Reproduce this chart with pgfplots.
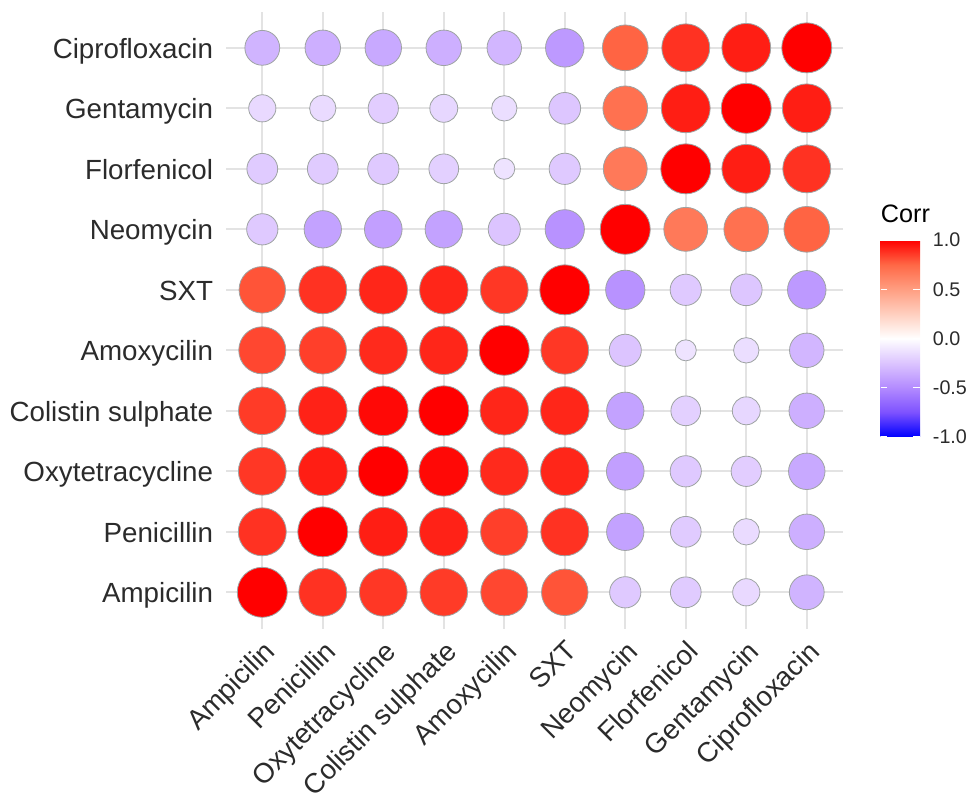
\documentclass[border=0pt]{standalone}
\usepackage{fontspec}
\setmainfont{Liberation Sans}
\usepackage{pgfplots}
\pgfplotsset{compat=1.18}
\usepackage{pgfplotstable}
\usetikzlibrary{calc}

\definecolor{labelgray}{HTML}{2B2B2B}
\definecolor{gridgray}{HTML}{E3E3E3}
\definecolor{rimgray}{HTML}{9EA3A3}

% Correlation matrix: x = column, y = row, r = correlation
% 1 Ampicilin, 2 Penicillin, 3 Oxytetracycline, 4 Colistin sulphate, 5 Amoxycilin,
% 6 SXT, 7 Neomycin, 8 Florfenicol, 9 Gentamycin, 10 Ciprofloxacin
\pgfplotstableread[row sep=\\]{
x y r\\
1 1 1.00\\ 2 1 0.88\\ 3 1 0.87\\ 4 1 0.86\\ 5 1 0.83\\ 6 1 0.80\\ 7 1 -0.23\\ 8 1 -0.22\\ 9 1 -0.16\\ 10 1 -0.32\\
1 2 0.88\\ 2 2 1.00\\ 3 2 0.93\\ 4 2 0.92\\ 5 2 0.85\\ 6 2 0.88\\ 7 2 -0.40\\ 8 2 -0.22\\ 9 2 -0.15\\ 10 2 -0.34\\
1 3 0.87\\ 2 3 0.93\\ 3 3 1.00\\ 4 3 0.98\\ 5 3 0.90\\ 6 3 0.91\\ 7 3 -0.41\\ 8 3 -0.23\\ 9 3 -0.21\\ 10 3 -0.37\\
1 4 0.86\\ 2 4 0.92\\ 3 4 0.98\\ 4 4 1.00\\ 5 4 0.91\\ 6 4 0.91\\ 7 4 -0.40\\ 8 4 -0.20\\ 9 4 -0.17\\ 10 4 -0.34\\
1 5 0.83\\ 2 5 0.85\\ 3 5 0.90\\ 4 5 0.91\\ 5 5 1.00\\ 6 5 0.87\\ 7 5 -0.25\\ 8 5 -0.12\\ 9 5 -0.14\\ 10 5 -0.31\\
1 6 0.80\\ 2 6 0.88\\ 3 6 0.91\\ 4 6 0.91\\ 5 6 0.87\\ 6 6 1.00\\ 7 6 -0.47\\ 8 6 -0.23\\ 9 6 -0.24\\ 10 6 -0.44\\
1 7 -0.23\\ 2 7 -0.40\\ 3 7 -0.41\\ 4 7 -0.40\\ 5 7 -0.25\\ 6 7 -0.47\\ 7 7 1.00\\ 8 7 0.67\\ 9 7 0.71\\ 10 7 0.76\\
1 8 -0.22\\ 2 8 -0.22\\ 3 8 -0.23\\ 4 8 -0.20\\ 5 8 -0.12\\ 6 8 -0.23\\ 7 8 0.67\\ 8 8 1.00\\ 9 8 0.93\\ 10 8 0.88\\
1 9 -0.16\\ 2 9 -0.15\\ 3 9 -0.21\\ 4 9 -0.17\\ 5 9 -0.14\\ 6 9 -0.24\\ 7 9 0.71\\ 8 9 0.93\\ 9 9 1.00\\ 10 9 0.93\\
1 10 -0.32\\ 2 10 -0.34\\ 3 10 -0.37\\ 4 10 -0.34\\ 5 10 -0.31\\ 6 10 -0.44\\ 7 10 0.76\\ 8 10 0.88\\ 9 10 0.93\\ 10 10 1.00\\
}\corrdata

\begin{document}
\begin{tikzpicture}
\begin{axis}[
  at={(0,0)}, anchor=south west,
  scale only axis, width=462.8pt, height=462.8pt,
  xmin=0.4, xmax=10.6, ymin=0.4, ymax=10.6,
  xtick={1,...,10}, ytick={1,...,10},
  xticklabels={Ampicilin,Penicillin,Oxytetracycline,Colistin sulphate,Amoxycilin,SXT,Neomycin,Florfenicol,Gentamycin,Ciprofloxacin},
  yticklabels={Ampicilin,Penicillin,Oxytetracycline,Colistin sulphate,Amoxycilin,SXT,Neomycin,Florfenicol,Gentamycin,Ciprofloxacin},
  axis line style={draw=none},
  major tick length=0pt,
  grid=major,
  major grid style={draw=gridgray, line width=1.5pt},
  tick label style={font=\fontsize{20.8}{24}\selectfont, text=labelgray, inner sep=0pt},
  yticklabel style={anchor=base east, xshift=-9.5pt, yshift=-7.7pt},
  xticklabel style={yshift=-7.5pt, rotate=45, anchor=north east},
  colormap={corr}{rgb255=(0,0,255) rgb255=(126,82,255) rgb255=(179,139,255) rgb255=(220,196,255) rgb255=(255,255,255) rgb255=(255,207,191) rgb255=(255,158,129) rgb255=(255,104,70) rgb255=(255,0,0)},
  point meta min=-1, point meta max=1,
  colorbar,
  colorbar shift/.style={},
  colorbar/width=29.5pt,
  colorbar style={
    at={($(parent axis.south west)+(491pt,143.8pt)$)}, anchor=south west,
    scale only axis, width=29.5pt, height=147.6pt,
    axis line style={draw=none},
    ytick={-1,-0.5,0,0.5,1},
    yticklabels={-1.0,-0.5,0.0,0.5,1.0},
    ytick pos=both, yticklabel pos=right,
    tick align=inside, major tick length=5pt,
    tick style={draw=white, line width=0.8pt},
    yticklabel style={font=\fontsize{14.8}{17}\selectfont, text=labelgray, inner sep=0pt, anchor=west, xshift=9.5pt},
    title={Corr},
    title style={at={(0,1)}, anchor=base west, yshift=7.5pt, inner sep=0pt, font=\fontsize{18.9}{22}\selectfont, text=black},
  },
]
\addplot[
  scatter, only marks, mark=*,
  point meta=\thisrow{r},
  scatter/use mapped color={draw=rimgray, fill=mapped color},
  visualization depends on={7.875+10.875*sqrt(max(0,(abs(\thisrow{r})-0.12)/0.88)) \as \rad},
  scatter/@pre marker code/.append style={/tikz/mark size=\rad pt},
  mark options={line width=0.6pt},
] table[x=x, y=y] {\corrdata};
\end{axis}
\pgfresetboundingbox
\path (-169.5pt,-123.3pt) rectangle (556.5pt,471.45pt);
\end{tikzpicture}
\end{document}
